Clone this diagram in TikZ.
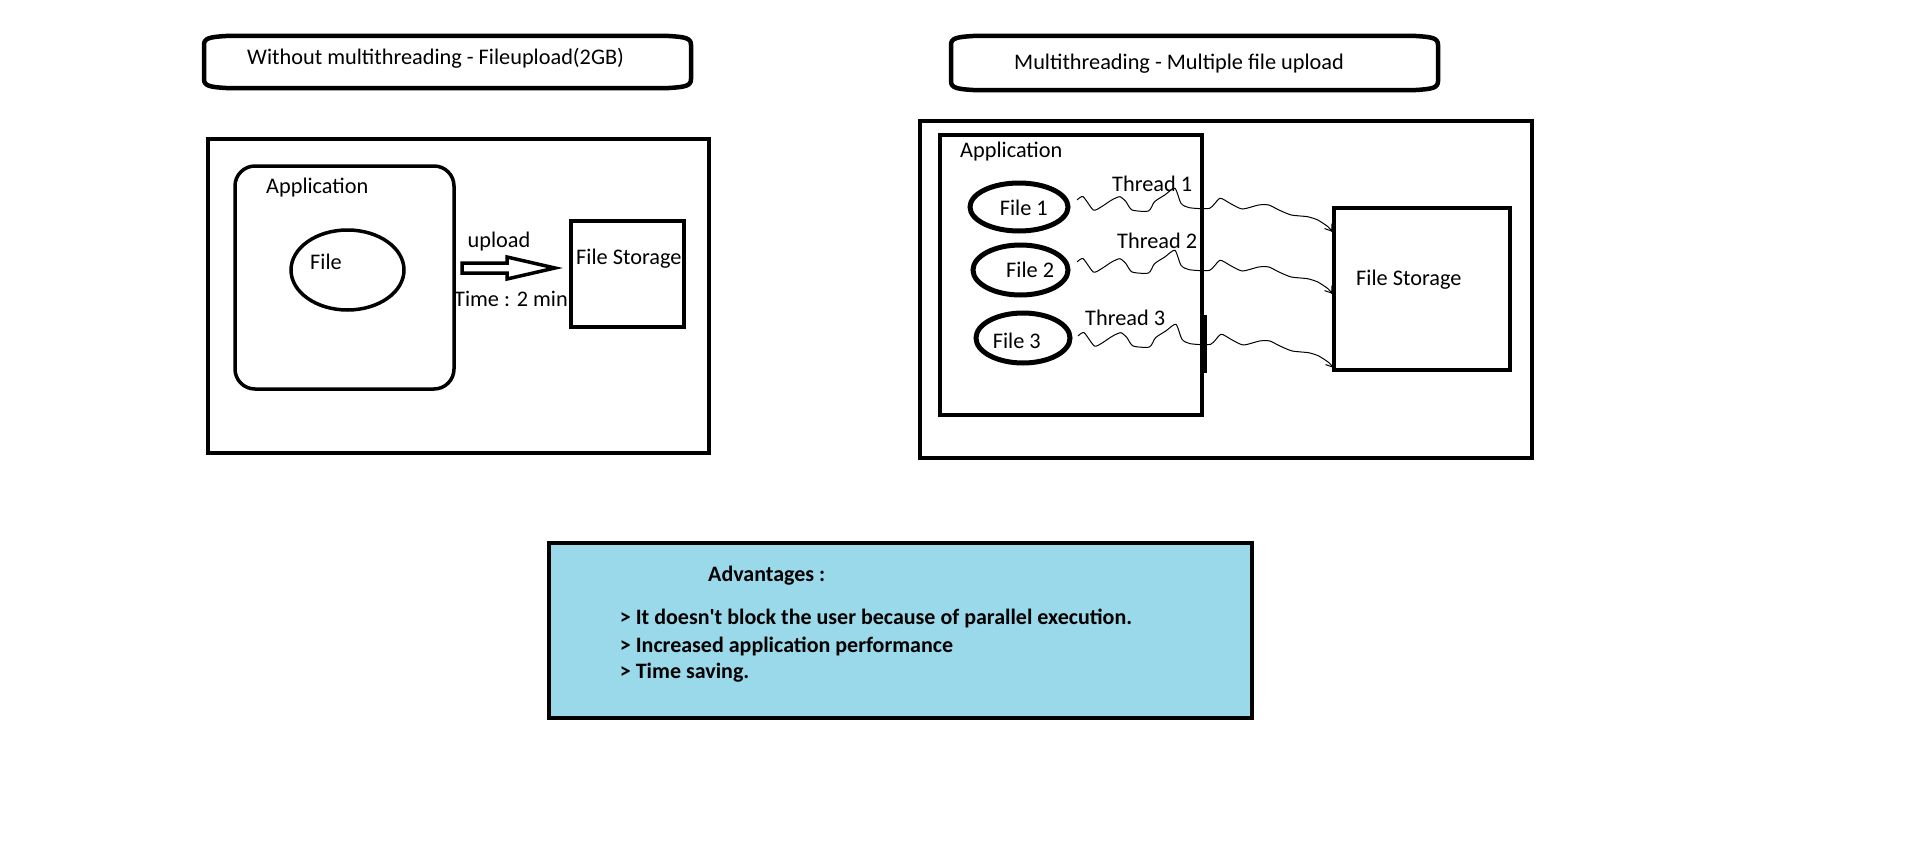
\documentclass[tikz,border=0pt]{standalone}
\usepackage{fontspec}
\setmainfont{Carlito}
\usetikzlibrary{arrows.meta,shapes.geometric}
\definecolor{advblue}{RGB}{153,217,234}
\tikzset{
  thickbox/.style={draw=black, line width=4pt, inner sep=0pt, outer sep=0pt},
  titleline/.style={draw=black, line width=4.5pt},
  filebox/.style={draw=black, line width=3.5pt, ellipse, inner sep=0pt},
  lbl/.style={anchor=base west, inner sep=0pt, font=\fontsize{22.3}{27}\selectfont},
  blbl/.style={anchor=base west, inner sep=0pt, font=\fontsize{22}{27}\selectfont\bfseries},
  wave/.style={draw=black, line width=1pt, -{Straight Barb[length=6pt,width=9pt]}}
}
% title frame: flat box with elliptic corners
\newcommand\ttlframe[4]{%
  \draw[titleline] (#1,#2+9) .. controls (#1,#2+2) and (#1+6,#2+1) .. (#1+22,#2)
    -- (#3-22,#2) .. controls (#3-6,#2+1) and (#3,#2+2) .. (#3,#2+9)
    -- (#3,#4-9) .. controls (#3,#4-2) and (#3-6,#4-1) .. (#3-22,#4)
    -- (#1+22,#4) .. controls (#1+6,#4-1) and (#1,#4-2) .. (#1,#4-9) -- cycle;}
\begin{document}
\begin{tikzpicture}[x=1pt,y=-1pt]
\useasboundingbox (0,0) rectangle (1914,867);
\fill[white] (0,0) rectangle (1914,867);

% ---------- left: without multithreading ----------
\ttlframe{204}{36}{691}{88}
\node[lbl] (t1txt) at (247,64) {Without multithreading - Fileupload(2GB)};

\node[thickbox, minimum width=501pt, minimum height=314pt] (out1) at (458.5,296) {};
\node[thickbox, line width=3.5pt, rounded corners=20pt, minimum width=219pt, minimum height=223pt] (app1) at (344.5,277.5) {};
\node[lbl] (app1txt) at (266,193) {Application};
\node[filebox, minimum width=113pt, minimum height=80pt] (file) at (347.5,270) {};
\node[lbl] (filetxt) at (310,269) {File};

\node[thickbox, minimum width=113pt, minimum height=106pt] (fs1) at (627.5,274) {};
\node[lbl] (fs1txt) at (576,264) {File Storage};

\coordinate (arrs) at (462,268);
\draw[line width=3.5pt, line join=miter]
  (arrs) ++(0,-5) -- ++(45,0) -- ++(0,-6) -- ++(48,11) -- ++(-48,11) -- ++(0,-6) -- ++(-45,0) -- cycle;
\node[lbl] (upl) at (467.5,247) {upload};
\node[lbl] (time) at (454,306) {Time : 2 min};

% ---------- right: multithreading ----------
\ttlframe{951}{36}{1438}{90}
\node[lbl] (t2txt) at (1014,70) {Multithreading - Multiple file upload};

\node[thickbox, minimum width=612pt, minimum height=337pt] (out2) at (1226,289.5) {};
\node[thickbox, line width=4.5pt, minimum width=262pt, minimum height=280pt] (app2) at (1071,275) {};
\draw[line width=4.5pt] (app2.east) ++(3,40) -- ++(0,58);
\node[lbl] (app2txt) at (960,157) {Application};

\node[filebox, line width=5pt, minimum width=98pt, minimum height=48pt] (f1) at (1019,207) {};
\node[filebox, line width=5pt, minimum width=95pt, minimum height=50pt] (f2) at (1020.5,270) {};
\node[filebox, line width=5pt, minimum width=94pt, minimum height=50pt] (f3) at (1023,338) {};
\node[lbl] (f1txt) at (999.6,215) {File 1};
\node[lbl] (f2txt) at (1006,277) {File 2};
\node[lbl] (f3txt) at (992.6,348) {File 3};

\node[lbl] (th1) at (1112,191) {Thread 1};
\node[lbl] (th2) at (1117,248) {Thread 2};
\node[lbl] (th3) at (1085,325) {Thread 3};

\node[thickbox, line width=4.5pt, minimum width=176pt, minimum height=162pt] (fs2) at (1422,289) {};
\node[lbl] (fs2txt) at (1356,285) {File Storage};

\coordinate (w1) at (1077,200);
\coordinate (w2) at (1077,262);
\coordinate (w3) at (1078,336);
\foreach \w in {w1,w2,w3}{
  \begin{scope}[shift={(\w)}, xscale=0.985]
    \draw[wave] plot[smooth, tension=0.4] coordinates {
      (0,0) (6.2,-3.3) (16.6,10) (24.9,6.7) (35.2,0) (43.5,-3.3) (49.7,1.7)
      (55.9,10) (72.5,11) (78.7,1.7) (89.1,-5) (99.4,-11.7) (105.6,3.3)
      (113.9,7.7) (134.6,8.3) (145,-1.7) (155.3,3.3) (167.8,9) (184.3,5)
      (194.7,5) (205,10) (217.5,15) (234,16.7) (244.4,20) (254.8,26.7) (259,31.7)};
  \end{scope}
}

% ---------- advantages ----------
\node[thickbox, line width=4.5pt, fill=advblue, minimum width=703pt, minimum height=175pt] (adv) at (900.5,630.5) {};
\node[blbl] (advh) at (708,581) {Advantages :};
\node[blbl] (adv1) at (619.7,624) {> It doesn\textquotesingle t block the user because of parallel execution.};
\node[blbl] (adv2) at (619.7,652) {> Increased application performance};
\node[blbl] (adv3) at (619.7,678) {> Time saving.};
\end{tikzpicture}
\end{document}
